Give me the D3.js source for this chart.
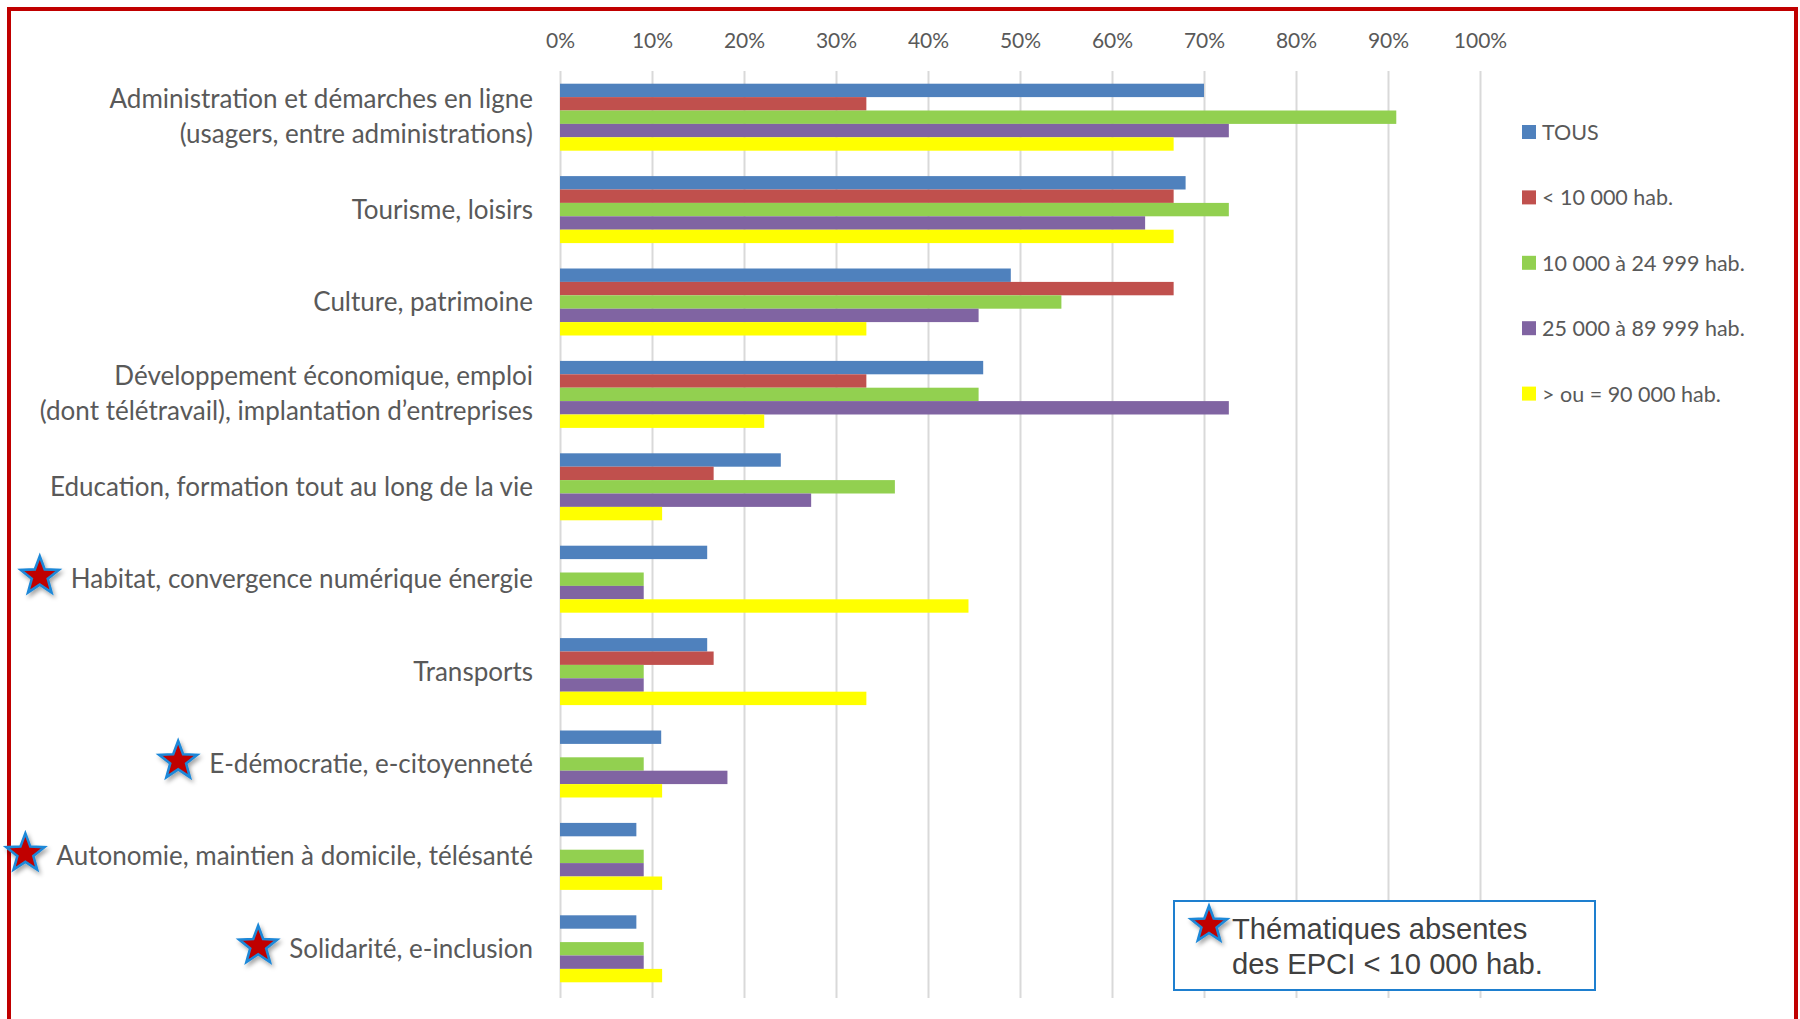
<!DOCTYPE html>
<html>
<head>
<meta charset="utf-8">
<script src="https://cdn.jsdelivr.net/npm/d3@7/dist/d3.min.js"></script>
<style>
  html, body { margin: 0; padding: 0; background: #fff; }
  svg { display: block; }
</style>
</head>
<body>
<svg id="chart" width="1800" height="1019"></svg>
<script>
// ---------- DATA ----------
const categories = [
  ["Administration et démarches en ligne", "(usagers, entre administrations)"],
  ["Tourisme, loisirs"],
  ["Culture, patrimoine"],
  ["Développement économique, emploi", "(dont télétravail), implantation d’entreprises"],
  ["Education, formation tout au long de la vie"],
  ["Habitat, convergence numérique énergie"],
  ["Transports"],
  ["E-démocratie, e-citoyenneté"],
  ["Autonomie, maintien à domicile, télésanté"],
  ["Solidarité, e-inclusion"]
];
const absentForSmall = [false, false, false, false, false, true, false, true, true, true];

const seriesNames = ["TOUS", "< 10 000 hab.", "10 000 à 24 999 hab.", "25 000 à 89 999 hab.", "> ou = 90 000 hab."];
const seriesColors = ["#4f81bd", "#c0504d", "#92d050", "#8064a2", "#ffff00"];

const tous     = [70, 68, 49, 46, 24, 16, 16, 11, 8.3, 8.3];
const lt10k    = [33.3, 66.7, 66.7, 33.3, 16.7, 0, 16.7, 0, 0, 0];
const k10to25  = [90.9, 72.7, 54.5, 45.5, 36.4, 9.1, 9.1, 9.1, 9.1, 9.1];
const k25to90  = [72.7, 63.6, 45.5, 72.7, 27.3, 9.1, 9.1, 18.2, 9.1, 9.1];
const ge90k    = [66.7, 66.7, 33.3, 22.2, 11.1, 44.4, 33.3, 11.1, 11.1, 11.1];
const seriesValues = [tous, lt10k, k10to25, k25to90, ge90k];

const xTicks = [0, 10, 20, 30, 40, 50, 60, 70, 80, 90, 100];
const noteLines = ["Thématiques absentes", "des EPCI < 10 000 hab."];

// ---------- LAYOUT ----------
const svg = d3.select("#chart");
const W = 1800, H = 1019;
const plotTop = 71, plotBottom = 995, gridBottom = 998;
const x = d3.scaleLinear().domain([0, 100]).range([560, 1480]);
const y = d3.scaleBand().domain(d3.range(categories.length))
  .range([plotTop, plotBottom]).paddingInner(0.275).paddingOuter(0.1375);
const ySub = d3.scaleBand().domain(d3.range(seriesNames.length)).range([0, y.bandwidth()]);

const labelColor = "#595959";
const mainFont = "Lato, 'Open Sans', sans-serif";

// defs: shadow
const defs = svg.append("defs");
const f = defs.append("filter").attr("id", "shadow").attr("x", "-50%").attr("y", "-50%").attr("width", "200%").attr("height", "200%");
f.append("feDropShadow").attr("dx", 2).attr("dy", 3).attr("stdDeviation", 2.2)
  .attr("flood-color", "#000").attr("flood-opacity", 0.35);

function starPath(R, ratio) {
  const pts = [];
  for (let i = 0; i < 10; i++) {
    const r = i % 2 === 0 ? R : R * ratio;
    const a = -Math.PI / 2 + i * Math.PI / 5;
    pts.push([r * Math.cos(a), r * Math.sin(a)]);
  }
  return "M" + pts.map(p => p[0].toFixed(2) + "," + p[1].toFixed(2)).join("L") + "Z";
}
function drawStar(g, cx, cy, R) {
  g.append("path")
    .attr("d", starPath(R, 0.42))
    .attr("transform", `translate(${cx},${cy})`)
    .attr("fill", "#c00000")
    .attr("stroke", "#1e88d8")
    .attr("stroke-width", 2.6)
    .attr("stroke-linejoin", "miter")
    .attr("filter", "url(#shadow)");
}

// red frame
svg.append("path")
  .attr("d", `M9,${H + 10} L9,9 L1796,9 L1796,${H + 10}`)
  .attr("fill", "none").attr("stroke", "#c00000").attr("stroke-width", 4);

// gridlines
const grid = svg.append("g").attr("transform", `translate(0,${plotTop})`)
  .call(d3.axisBottom(x).tickValues(xTicks).tickSize(gridBottom - plotTop).tickFormat(""));
grid.select(".domain").remove();
grid.selectAll(".tick line").attr("stroke", "#d9d9d9").attr("stroke-width", 2);

// top axis labels
const axisTop = svg.append("g").attr("transform", "translate(0,48)")
  .call(d3.axisTop(x).tickValues(xTicks).tickSize(0).tickPadding(0).tickFormat(d => d + "%"));
axisTop.select(".domain").remove();
axisTop.selectAll("text").style("font-family", mainFont).style("font-size", "21px").attr("fill", labelColor).attr("dy", 0);

// bars
const groups = svg.append("g").selectAll("g.cat").data(categories).join("g")
  .attr("class", "cat").attr("transform", (d, i) => `translate(0,${y(i)})`);
groups.each(function (d, ci) {
  d3.select(this).selectAll("rect").data(seriesValues.map((s, si) => ({ si, v: s[ci] })))
    .join("rect")
    .attr("x", x(0))
    .attr("y", e => ySub(e.si))
    .attr("width", e => Math.max(0, x(e.v) - x(0)))
    .attr("height", ySub.bandwidth())
    .attr("fill", e => seriesColors[e.si]);
});

// category labels
const labelX = 533;
const labels = svg.append("g").selectAll("text.lab").data(categories).join("text")
  .attr("class", "lab")
  .attr("x", labelX)
  .attr("text-anchor", "end")
  .style("font-family", mainFont)
  .style("font-size", "26px")
  .attr("fill", labelColor)
  .attr("dominant-baseline", "central");
labels.each(function (lines, i) {
  const cy = y(i) + y.bandwidth() / 2 - 1;
  const t = d3.select(this);
  if (lines.length === 1) {
    t.append("tspan").attr("x", labelX).attr("y", cy).text(lines[0]);
  } else {
    t.append("tspan").attr("x", labelX).attr("y", cy - 18).text(lines[0]);
    t.append("tspan").attr("x", labelX).attr("y", cy + 17).text(lines[1]);
  }
});

// stars for themes absent in < 10 000 hab.
const starG = svg.append("g");
labels.each(function (lines, i) {
  if (!absentForSmall[i]) return;
  const bb = this.getBBox();
  const cy = y(i) + y.bandwidth() / 2 - 3;
  drawStar(starG, bb.x - 31, cy, 20);
});

// legend
const legend = svg.append("g");
seriesNames.forEach((n, i) => {
  const cy = 132 + i * 65.4;
  legend.append("rect").attr("x", 1522).attr("y", cy - 7).attr("width", 14).attr("height", 14).attr("fill", seriesColors[i]);
  legend.append("text").attr("x", 1542).attr("y", cy).attr("dominant-baseline", "central")
    .style("font-family", mainFont).style("font-size", "21.5px").attr("fill", labelColor).text(n);
});

// note box
const note = svg.append("g");
note.append("rect").attr("x", 1174).attr("y", 901).attr("width", 421).attr("height", 89)
  .attr("fill", "#fff").attr("stroke", "#1e7fcf").attr("stroke-width", 2);
noteLines.forEach((t, i) => {
  note.append("text").attr("x", 1232).attr("y", 939 + i * 35)
    .style("font-family", "'Liberation Sans', Arial, sans-serif")
    .style("font-size", "29.2px").attr("fill", "#404040").text(t);
});
drawStar(note, 1209, 925, 19);
</script>
</body>
</html>
